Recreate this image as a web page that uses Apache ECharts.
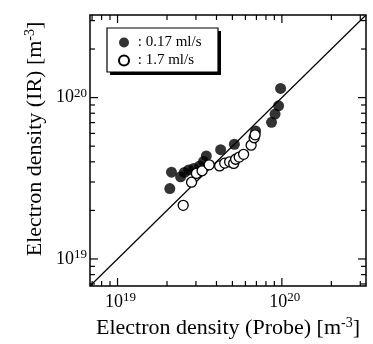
<!DOCTYPE html>
<html>
<head>
<meta charset="utf-8">
<script src="https://cdn.jsdelivr.net/npm/echarts@6/dist/echarts.min.js"></script>
<style>
html, body { margin: 0; padding: 0; background: #fff; }
#chart { width: 373px; height: 344px; }
</style>
</head>
<body>
<div id="chart"></div>
<script>
// data: [probe, IR] in m^-3
var lowFlow = [
    [2.08e19, 2.73e19], [2.13e19, 3.45e19], [2.42e19, 3.23e19], [2.55e19, 3.44e19],
    [2.71e19, 3.56e19], [2.91e19, 3.64e19], [3.16e19, 3.77e19], [3.34e19, 4.02e19],
    [3.47e19, 4.35e19], [4.24e19, 4.76e19], [5.14e19, 5.14e19], [6.92e19, 6.22e19],
    [8.65e19, 7.03e19], [9.09e19, 7.90e19], [9.55e19, 8.89e19], [9.82e19, 1.14e20]
];
var highFlow = [
    [2.51e19, 2.15e19], [2.82e19, 2.99e19], [3.02e19, 3.39e19], [3.27e19, 3.52e19],
    [3.61e19, 3.83e19], [4.18e19, 3.77e19], [4.49e19, 3.93e19], [4.81e19, 4.00e19],
    [5.09e19, 3.91e19], [5.23e19, 4.15e19], [5.50e19, 4.28e19], [5.85e19, 4.45e19],
    [6.50e19, 5.07e19], [6.78e19, 5.64e19], [6.87e19, 5.88e19]
];
var seriesNames = ['0.17 ml/s', '1.7 ml/s'];
var axisMin = 6.8e18, axisMax = 3.25e20;
var majorTicks = [1e19, 1e20];
var minorTicks = [7e18, 8e18, 9e18, 2e19, 3e19, 4e19, 5e19, 6e19, 7e19, 8e19, 9e19, 2e20, 3e20];

var serif = 'Liberation Serif';

function powLabel(v, pad) {
    var e = Math.log10(v), r = Math.round(e);
    if (Math.abs(e - r) > 1e-6) return '';
    return (pad ? '{pad|}' : '') + '10{sup|' + r + '}';
}

// inward ticks on all four sides
function renderTicks(params, api) {
    var v = api.value(0);
    var len = majorTicks.indexOf(v) >= 0 ? 8 : 5;
    var b = api.coord([v, axisMin]),
        t = api.coord([v, axisMax]),
        l = api.coord([axisMin, v]),
        r = api.coord([axisMax, v]);
    var st = { stroke: '#000', lineWidth: 1.2 };
    return {
        type: 'group',
        children: [
            { type: 'line', shape: { x1: b[0], y1: b[1], x2: b[0], y2: b[1] - len }, style: st },
            { type: 'line', shape: { x1: t[0], y1: t[1], x2: t[0], y2: t[1] + len }, style: st },
            { type: 'line', shape: { x1: l[0], y1: l[1], x2: l[0] + len, y2: l[1] }, style: st },
            { type: 'line', shape: { x1: r[0], y1: r[1], x2: r[0] - len, y2: r[1] }, style: st }
        ]
    };
}

var allTicks = majorTicks.concat(minorTicks).map(function(v) { return [v, v]; });

var chart = echarts.init(document.getElementById('chart'), null, { renderer: 'canvas' });
chart.setOption({
    animation: false,
    backgroundColor: '#fff',
    grid: {
        left: 90, top: 15, right: 7, bottom: 54,
        show: true, borderColor: '#000', borderWidth: 1.5, backgroundColor: 'transparent'
    },
    xAxis: {
        type: 'log', logBase: 10, min: axisMin, max: axisMax,
        axisLine: { show: false }, axisTick: { show: false }, splitLine: { show: false },
        axisLabel: {
            margin: 5, showMinLabel: false, showMaxLabel: false,
            fontFamily: serif, fontSize: 18, color: '#000',
            formatter: function(v) { return powLabel(v, true); },
            rich: {
                pad: { width: 6 },
                sup: { fontFamily: serif, fontSize: 13, color: '#000', padding: [0, 0, 9, 0] }
            }
        },
        name: 'Electron density (Probe) [m{sup|-3}]',
        nameLocation: 'middle', nameGap: 30,
        nameTextStyle: {
            fontFamily: serif, fontSize: 22, color: '#000',
            rich: { sup: { fontFamily: serif, fontSize: 14, color: '#000', padding: [0, 0, 10, 0] } }
        }
    },
    yAxis: {
        type: 'log', logBase: 10, min: axisMin, max: axisMax,
        axisLine: { show: false }, axisTick: { show: false }, splitLine: { show: false },
        axisLabel: {
            margin: 3, showMinLabel: false, showMaxLabel: false,
            fontFamily: serif, fontSize: 18, color: '#000',
            formatter: function(v) { return powLabel(v, false); },
            rich: {
                sup: { fontFamily: serif, fontSize: 13, color: '#000', padding: [0, 0, 9, 0] }
            }
        }
    },
    graphic: [
        {
            type: 'text', x: 35, y: 139, rotation: Math.PI / 2,
            style: {
                text: 'Electron density (IR) [m{sup|-3}]',
                fontFamily: serif, fontSize: 22, fill: '#000',
                align: 'center', verticalAlign: 'middle',
                rich: { sup: { fontFamily: serif, fontSize: 14, fill: '#000', padding: [0, 0, 10, 0] } }
            }
        },
        // legend frame with its drop shadow
        { type: 'rect', shape: { x: 110, y: 31, width: 111, height: 44 }, style: { fill: '#000' }, z: 10 },
        { type: 'rect', shape: { x: 107, y: 28, width: 111, height: 44 },
          style: { fill: '#fff', stroke: '#000', lineWidth: 1.2 }, z: 11 }
    ],
    legend: {
        data: seriesNames,
        orient: 'vertical', left: 107, top: 28,
        padding: [7, 0, 0, 11], itemGap: 3, itemWidth: 10, itemHeight: 10,
        icon: 'circle', z: 20,
        formatter: function(name) { return ' : ' + name; },
        textStyle: { fontFamily: serif, fontSize: 15, color: '#000', lineHeight: 15 }
    },
    series: [
        {
            type: 'line', data: [[axisMin, axisMin], [axisMax, axisMax]],
            symbol: 'none', silent: true,
            lineStyle: { color: '#000', width: 1.2 }, z: 1
        },
        {
            type: 'custom', data: allTicks, renderItem: renderTicks,
            silent: true, clip: false, z: 3
        },
        {
            name: seriesNames[0], type: 'scatter', data: lowFlow,
            symbol: 'circle', symbolSize: 11,
            itemStyle: { color: '#000' }, z: 4
        },
        {
            name: seriesNames[1], type: 'scatter', data: highFlow,
            symbol: 'circle', symbolSize: 10,
            itemStyle: { color: '#fff', borderColor: '#000', borderWidth: 1.3, opacity: 1 }, z: 5
        }
    ]
});
</script>
</body>
</html>
